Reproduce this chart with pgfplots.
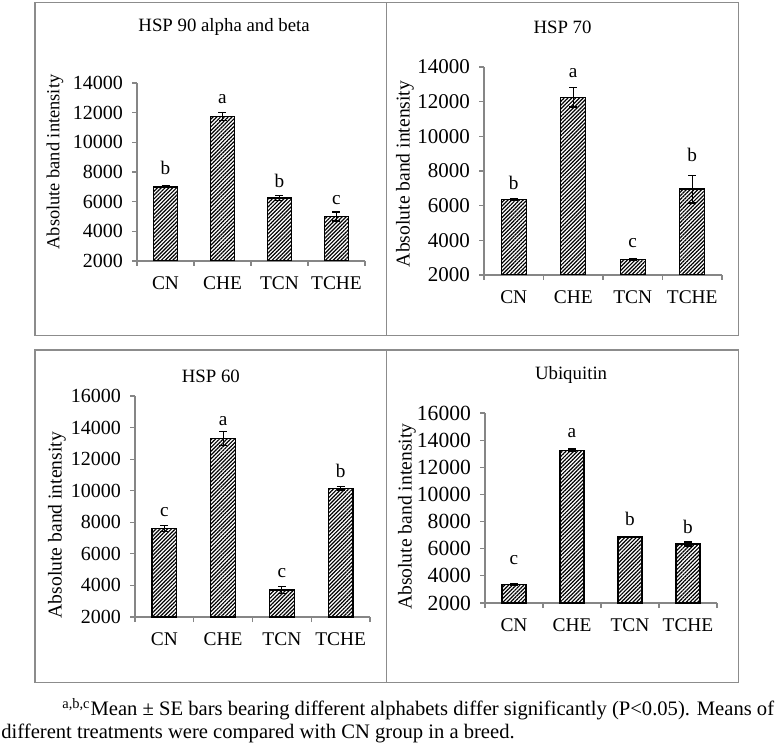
\documentclass[border=0pt]{standalone}
\usepackage{fontspec}
\setmainfont{Liberation Serif}
\usepackage{pgfplots}
\pgfplotsset{compat=1.18}
\usetikzlibrary{patterns.meta}

\definecolor{axgray}{RGB}{134,134,134}
\definecolor{boxgray}{RGB}{140,140,140}

\pgfplotsset{
  hspstyle/.style={
    scale only axis,
    anchor=south west,
    axis lines*=left,
    axis line style={draw=axgray, line width=0.55pt},
    xmin=0.5, xmax=4.5,
    xtick={0.5,1.5,2.5,3.5,4.5},
    xticklabels={},
    extra x ticks={1,2,3,4},
    extra x tick labels={CN,CHE,TCN,TCHE},
    extra x tick style={major tick length=0pt},
    ytick distance=2000,
    tick style={draw=axgray, line width=0.55pt},
    tick align=outside,
    major tick length=2.5pt,
    scaled y ticks=false,
    yticklabel style={/pgf/number format/1000 sep={}, /pgf/number format/assume math mode=true, font=\fontsize{10}{12}\selectfont, xshift=-1pt},
    xticklabel style={font=\fontsize{9.7}{11}\selectfont, yshift=-4.5pt},
    ylabel={Absolute band intensity},
    ylabel style={anchor=center, font=\fontsize{9.8}{11}\selectfont},
    every axis title/.style={anchor=center, font=\fontsize{9.4}{11}\selectfont},
    ybar, bar width=0.42,
  },
  hspbar/.style={
    draw=black, line width=0.7pt,
    pattern={Lines[angle=45,distance=1.35pt,line width=0.6pt]}, pattern color=black,
    error bars/.cd, y dir=both, y explicit,
    error bar style={line width=0.6pt, black},
    error mark options={rotate=90, mark size=2pt, line width=0.6pt, black},
  },
}
\newcommand{\lab}{\fontsize{9.6}{11}\selectfont}

\begin{document}
\begin{tikzpicture}
\useasboundingbox (0,0) rectangle (390pt,375pt);
% panel boxes
\draw[boxgray, line width=0.6pt] (17.5pt,207.15pt) rectangle (193.35pt,373.65pt);
\draw[boxgray, line width=0.6pt] (193.35pt,207.15pt) rectangle (369.15pt,373.65pt);
\draw[boxgray, line width=0.6pt] (17.5pt,33.75pt) rectangle (193.35pt,200pt);
\draw[boxgray, line width=0.6pt] (193.35pt,33.75pt) rectangle (369.15pt,200pt);

% Panel 1
\begin{axis}[hspstyle, at={(68.5pt,244.5pt)}, width=114pt, height=89pt,
  ymin=2000, ymax=14000,
  title={HSP 90 alpha and beta},
  title style={at={(axis description cs:0.382,1.315)}},
  ylabel style={at={(axis description cs:-0.36,0.556)}, font=\fontsize{9.2}{11}\selectfont}]
\addplot[hspbar] coordinates {(1,7000) +- (0,60) (2,11750) +- (0,260) (3,6250) +- (0,150) (4,5000) +- (0,300)};
\node[font=\lab] at (axis cs:1,8270) {b};
\node[font=\lab] at (axis cs:2,12900) {a};
\node[font=\lab] at (axis cs:3,7400) {b};
\node[font=\lab] at (axis cs:4,6100) {c};
\end{axis}

% Panel 2
\begin{axis}[hspstyle, at={(242pt,237.5pt)}, width=119pt, height=104pt,
  ymin=2000, ymax=14000,
  yticklabel style={font=\fontsize{10.5}{12}\selectfont},
  title={HSP 70},
  title style={at={(axis description cs:0.33,1.192)}},
  ylabel style={at={(axis description cs:-0.332,0.486)}}]
\addplot[hspbar] coordinates {(1,6350) +- (0,50) (2,12250) +- (0,560) (3,2900) +- (0,50) (4,6950) +- (0,800)};
\node[font=\lab] at (axis cs:1,7308) {b};
\node[font=\lab] at (axis cs:2,13655) {a};
\node[font=\lab] at (axis cs:3,3846) {c};
\node[font=\lab] at (axis cs:4,8924) {b};
\end{axis}

% Panel 3
\begin{axis}[hspstyle, at={(67.5pt,66.5pt)}, width=117.5pt, height=110.5pt,
  ymin=2000, ymax=16000,
  title={HSP 60},
  title style={at={(axis description cs:0.323,1.087)}},
  ylabel style={at={(axis description cs:-0.332,0.416)}}]
\addplot[hspbar] coordinates {(1,7600) +- (0,200) (2,13300) +- (0,450) (3,3700) +- (0,220) (4,10150) +- (0,100)};
\node[font=\lab] at (axis cs:1,8666) {c};
\node[font=\lab] at (axis cs:2,14426) {a};
\node[font=\lab] at (axis cs:3,4766) {c};
\node[font=\lab] at (axis cs:4,11261) {b};
\end{axis}

% Panel 4
\begin{axis}[hspstyle, at={(242.5pt,73.5pt)}, width=116pt, height=95pt,
  ymin=2000, ymax=16000,
  yticklabel style={font=\fontsize{10.8}{12}\selectfont},
  title={Ubiquitin},
  title style={at={(axis description cs:0.371,1.2)}},
  ylabel style={at={(axis description cs:-0.336,0.454)}}]
\addplot[hspbar] coordinates {(1,3350) +- (0,50) (2,13250) +- (0,100) (3,6850) +- (0,50) (4,6350) +- (0,150)};
\node[font=\lab] at (axis cs:1,5178) {c};
\node[font=\lab] at (axis cs:2,14489) {a};
\node[font=\lab] at (axis cs:3,8185) {b};
\node[font=\lab] at (axis cs:4,7639) {b};
\end{axis}

% caption
\node[anchor=base west, inner sep=0pt, font=\fontsize{10.3}{12}\selectfont] at (31pt,17.15pt)
  {\textsuperscript{a,b,c}Mean ± SE bars bearing different alphabets differ significantly (P<0.05). Means of};
\node[anchor=base west, inner sep=0pt, font=\fontsize{10.3}{12}\selectfont] at (0.5pt,5.85pt)
  {different treatments were compared with CN group in a breed.};
\end{tikzpicture}
\end{document}
